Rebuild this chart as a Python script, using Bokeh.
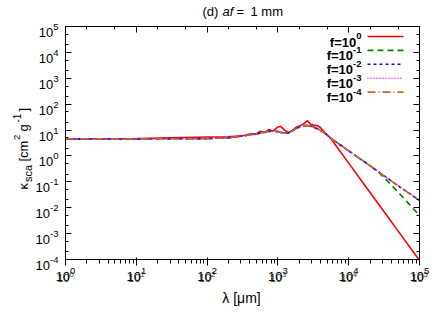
from bokeh.plotting import figure
from bokeh.models import Arrow, FixedTicker, LogAxis, CustomJSTickFormatter
from bokeh.core.properties import value
from bokeh.embed import file_html
from bokeh.resources import INLINE
import math

# ---------------- data ----------------
wavelength_um = [1, 3.16, 10, 31.6, 100, 200, 295, 355, 407, 479, 562, 661, 741, 851,
                 1000, 1096, 1259, 1413, 1585, 1778, 2089, 2291, 2630, 2884,
                 3162, 3631, 3981, 4677, 5495, 10000, 17783, 25119, 31623, 56234, 100000]

kappa_f1e0 = [4.57, 4.62, 4.68, 5.01, 5.37, 5.50, 6.03, 6.31, 7.24, 6.76, 8.91, 7.94, 10.5, 9.12,
              13.2, 13.8, 9.55, 8.13, 9.33, 12.6, 15.1, 17.4, 22.9, 16.6,
              15.5, 14.8, 12.6, 7.59, 5.01, 0.527, 0.0605, 0.0165, 0.00695, 0.000798, 0.0000917]

kappa_f1em1 = [4.57, 4.57, 4.57, 4.62, 4.68, 5.01, 5.75, 6.17, 6.61, 7.08, 7.59, 8.51, 8.91, 9.12,
               8.71, 8.13, 7.59, 7.76, 9.12, 11.2, 13.8, 14.8, 14.8, 14.1,
               13.2, 11.2, 9.77, 7.24, 5.01, 1.58, 0.525, 0.263, 0.148, 0.0282, 0.00501]

kappa_f1em2 = [4.57, 4.57, 4.57, 4.62, 4.68, 5.01, 5.75, 6.17, 6.61, 7.08, 7.59, 8.51, 8.91, 9.12,
               8.71, 8.13, 7.59, 7.76, 9.12, 11.2, 13.8, 14.8, 14.8, 14.1,
               13.2, 11.2, 9.77, 7.24, 5.01, 1.58, 0.525, 0.269, 0.170, 0.0562, 0.0191]

kappa_f1em3 = [4.57, 4.57, 4.57, 4.62, 4.68, 5.01, 5.75, 6.17, 6.61, 7.08, 7.59, 8.51, 8.91, 9.12,
               8.71, 8.13, 7.59, 7.76, 9.12, 11.2, 13.8, 14.8, 14.8, 14.1,
               13.2, 11.2, 9.77, 7.24, 5.01, 1.58, 0.525, 0.269, 0.170, 0.0562, 0.0191]

kappa_f1em4 = [4.57, 4.57, 4.57, 4.62, 4.68, 5.01, 5.75, 6.17, 6.61, 7.08, 7.59, 8.51, 8.91, 9.12,
               8.71, 8.13, 7.59, 7.76, 9.12, 11.2, 13.8, 14.8, 14.8, 14.1,
               13.2, 11.2, 9.77, 7.24, 5.01, 1.58, 0.525, 0.269, 0.170, 0.0562, 0.0191]

series_exponents = ["0", "-1", "-2", "-3", "-4"]
series_values = [kappa_f1e0, kappa_f1em1, kappa_f1em2, kappa_f1em3, kappa_f1em4]

x_tick_values = [1, 10, 100, 1000, 10000, 100000]
x_tick_exponents = ["0", "1", "2", "3", "4", "5"]
y_tick_values = [1e-4, 1e-3, 1e-2, 1e-1, 1, 10, 100, 1000, 10000, 100000]
y_tick_exponents = ["-4", "-3", "-2", "-1", "0", "1", "2", "3", "4", "5"]

# ---------------- style ----------------
FONT = "Liberation Sans"
colors = ["#ff0000", "#008000", "#0000ff", "#ff00ff", "#cd6428"]
dashes = ["solid", "6 4", "3 3", "1 2", "8 3 1 3"]
widths = [1.6, 1.6, 1.6, 1.6, 1.6]

ADV = {"0": .556, "1": .556, "2": .556, "3": .556, "4": .556, "5": .556, "6": .556,
       "7": .556, "8": .556, "9": .556, "-": .333, "=": .584, "f": .278}


def tw(s, size):
    return sum(ADV.get(c, .556) for c in s) * size


# frame position on the page (pixels)
W_PAGE, H_PAGE = 436, 327
FL, FR, FT, FB = 65, 419, 26, 259
X_DEC = (FR - FL) / 5.0
Y_DEC = (FB - FT) / 9.0


def px2x(px):
    return 10 ** ((px - FL) / X_DEC)


def py2y(py):
    return 10 ** (5 - (py - FT) / Y_DEC)


def tick_py(v):
    return FT + (5 - math.log10(v)) * Y_DEC


p = figure(width=W_PAGE, height=H_PAGE, x_axis_type="log", y_axis_type="log",
           x_range=(1, 1e5), y_range=(1e-4, 1e5),
           output_backend="svg", toolbar_location=None,
           min_border_left=FL, min_border_right=W_PAGE - FR,
           min_border_top=FT, min_border_bottom=H_PAGE - FB)
p.grid.visible = False
p.outline_line_color = "black"
p.outline_line_width = 1
p.background_fill_color = "white"
p.border_fill_color = "white"

x_minor = [m * 10 ** k for k in range(0, 5) for m in (2, 5)]
y_minor = [m * 10.0 ** k for k in range(-4, 5) for m in (2, 5)]

top_axis = LogAxis()
right_axis = LogAxis()
p.add_layout(top_axis, "above")
p.add_layout(right_axis, "right")

blank = CustomJSTickFormatter(code="return ''")
for ax in [p.xaxis[0], top_axis]:
    ax.ticker = FixedTicker(ticks=x_tick_values, minor_ticks=x_minor)
for ax in [p.yaxis[0], right_axis]:
    ax.ticker = FixedTicker(ticks=y_tick_values, minor_ticks=y_minor)
for ax in [p.xaxis[0], p.yaxis[0], top_axis, right_axis]:
    ax.formatter = blank
    ax.major_tick_in = 6
    ax.major_tick_out = 0
    ax.minor_tick_in = 3
    ax.minor_tick_out = 0
    ax.major_label_standoff = 0
    ax.axis_line_color = "black"
    ax.major_tick_line_color = "black"
    ax.minor_tick_line_color = "black"

# curves (gnuplot order: f=1 first)
for vals, c, d, w in zip(series_values, colors, dashes, widths):
    p.line(wavelength_um, vals, line_color=c, line_dash=d, line_width=w)


def txt(s, size, px=None, py=None, xd=None, yd=None, align="left", style="normal",
        angle=0.0, x_off=0.0):
    x = xd if xd is not None else px2x(px)
    y = yd if yd is not None else py2y(py)
    r = p.text(x=[x], y=[y], text=[s], text_font=value(FONT), text_font_size=value(f"{size}px"),
               text_font_style=style, text_align=align, text_baseline="alphabetic",
               angle=angle, x_offset=x_off, text_color="black")
    r.level = "overlay"


BASE_SZ, SUP_SZ = 13, 9.5

# x tick labels: "10" + superscript, centred on tick
for v, e in zip(x_tick_values, x_tick_exponents):
    wb, ws = tw("10", BASE_SZ), tw(e, SUP_SZ)
    W = wb + ws
    txt("10", BASE_SZ, xd=v, py=276, x_off=-W / 2)
    txt(e, SUP_SZ, xd=v, py=270, x_off=-W / 2 + wb)

# y tick labels: right aligned at x = 58 px
for v, e in zip(y_tick_values, y_tick_exponents):
    ws = tw(e, SUP_SZ)
    ty = tick_py(v)
    txt("10", BASE_SZ, px=58 - ws, py=ty + 6, align="right")
    txt(e, SUP_SZ, px=58, py=ty + 0.5, align="right")

# title: (d) af = 1 mm
for t, px, st in [("(d)", 202, "normal"), ("af", 222, "italic"), ("=", 236, "normal"),
                  ("1 mm", 250, "normal")]:
    txt(t, 13, px=px, py=11, style=st)

# x axis label
txt("λ [μm]", 14, px=241, py=297, align="center")

# y axis label pieces (rotated, reading upwards)
ROT = math.pi / 2
ylab_pieces = [("κ", 23, 189, 13), ("sca", 27, 181.5, 11), ("[cm", 23, 161, 13),
               ("2", 16, 139.5, 9.5), ("g", 22.5, 131, 13), ("-1", 16, 122, 10), ("]", 23, 111, 13)]
for t, px, py, sz in ylab_pieces:
    txt(t, sz, px=px, py=py, angle=ROT)

# legend (text right aligned, sample line on the right)
R = 361
for i, (e, c, d, w) in enumerate(zip(series_exponents, colors, dashes, widths)):
    ly = 36 + 13.9 * i
    p.add_layout(Arrow(end=None, x_start=367 - FL, y_start=FB - ly, x_end=403 - FL, y_end=FB - ly,
                       start_units="screen", end_units="screen",
                       line_color=c, line_dash=d, line_width=w))
    ws = tw(e, SUP_SZ)
    txt("f=10", 13, px=R - ws, py=ly + 5.5, align="right", style="bold")
    txt(e, SUP_SZ, px=R, py=ly - 0.2, align="right", style="bold")

open("out.html", "w").write(file_html(p, INLINE))
